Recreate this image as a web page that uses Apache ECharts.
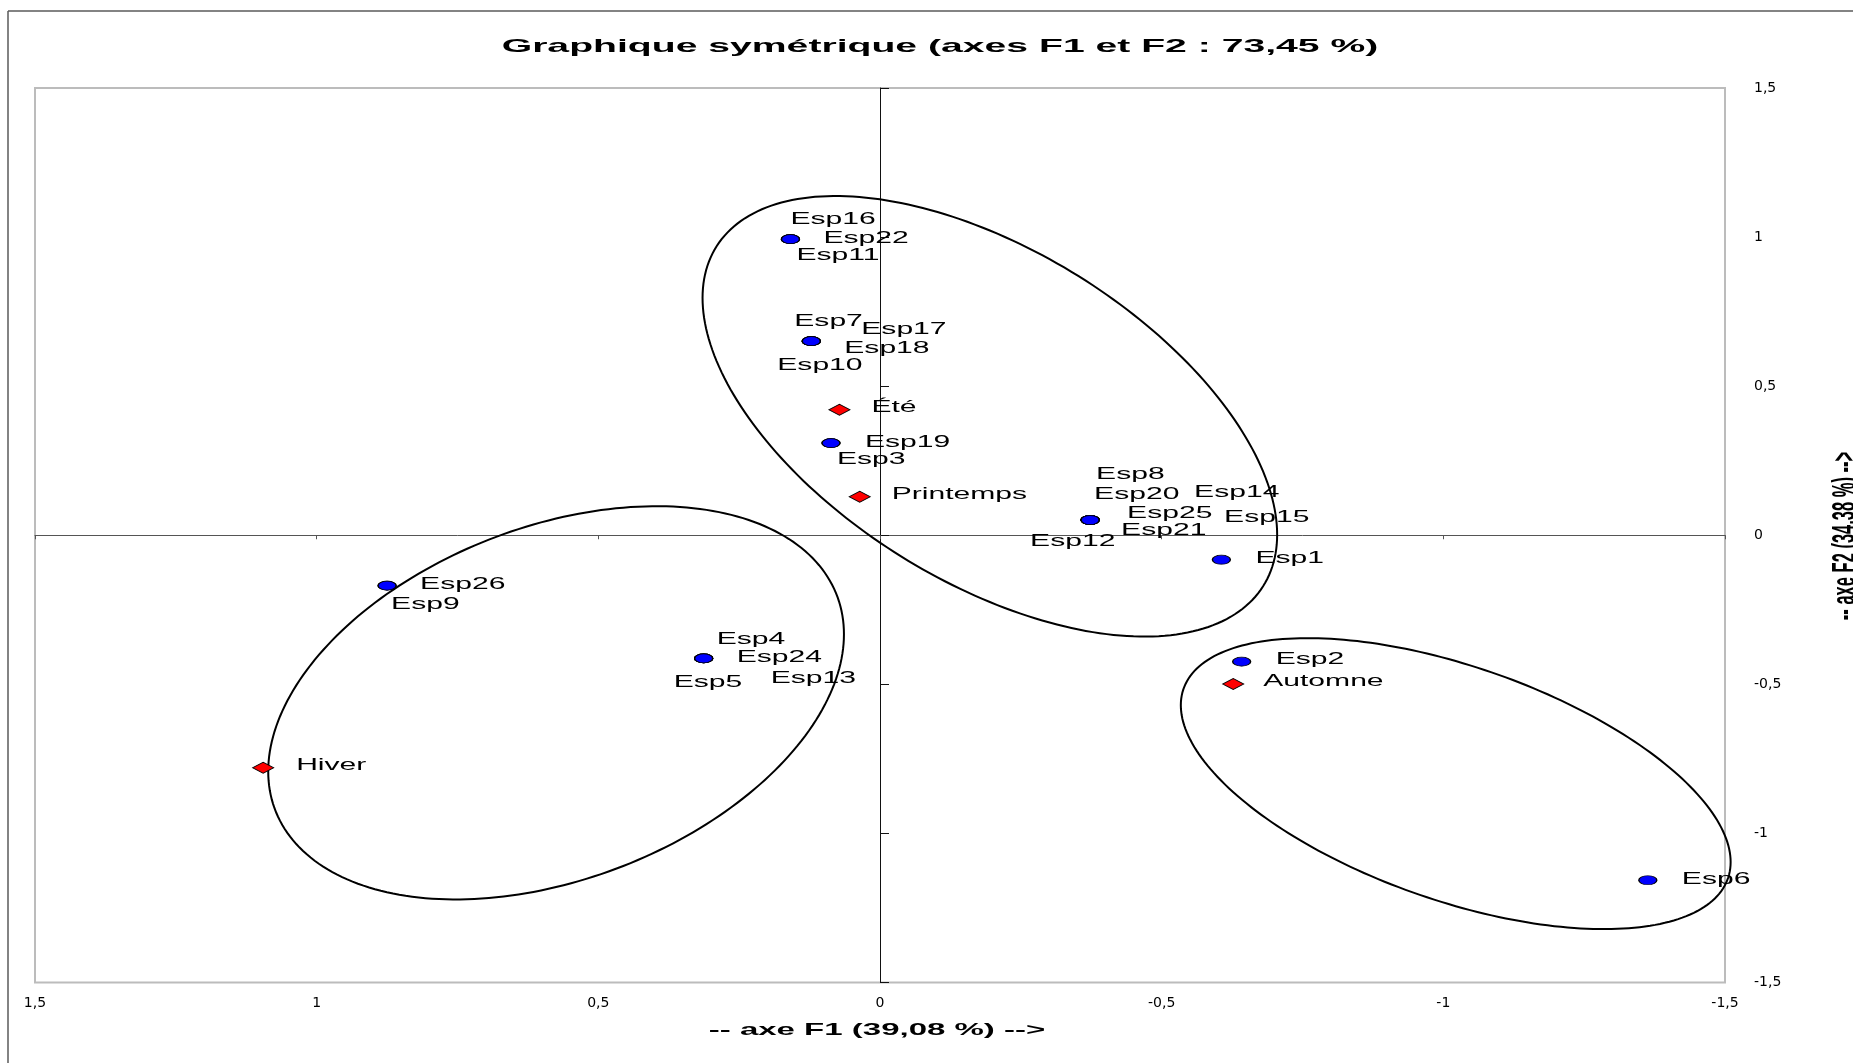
<!DOCTYPE html>
<html>
<head>
<meta charset="utf-8">
<title>Graphique symétrique</title>
<script src="https://cdn.jsdelivr.net/npm/echarts@6/dist/echarts.min.js"></script>
<style>
  html, body { margin: 0; padding: 0; background: #ffffff; }
  #chart { width: 1853px; height: 1063px; }
</style>
</head>
<body>
<div id="chart"></div>
<script>
// Species (rows of the contingency table) on the F1 x F2 plane
const speciesNames = ['Esp1', 'Esp2', 'Esp3', 'Esp4', 'Esp5', 'Esp6', 'Esp7', 'Esp8', 'Esp9', 'Esp10',
  'Esp11', 'Esp12', 'Esp13', 'Esp14', 'Esp15', 'Esp16', 'Esp17', 'Esp18', 'Esp19', 'Esp20',
  'Esp21', 'Esp22', 'Esp24', 'Esp25', 'Esp26'];
const speciesF1 = [-0.606, -0.642, 0.087, 0.313, 0.313, -1.363, 0.122, -0.373, 0.875, 0.122,
  0.159, -0.373, 0.313, -0.373, -0.373, 0.159, 0.122, 0.122, 0.087, -0.373,
  -0.373, 0.159, 0.313, -0.373, 0.875];
const speciesF2 = [-0.082, -0.424, 0.309, -0.413, -0.413, -1.157, 0.651, 0.051, -0.169, 0.651,
  0.993, 0.051, -0.413, 0.051, 0.051, 0.993, 0.651, 0.651, 0.309, 0.051,
  0.051, 0.993, -0.413, 0.051, -0.169];

// Seasons (columns)
const seasonNames = ['Printemps', 'Été', 'Automne', 'Hiver'];
const seasonF1 = [0.036, 0.072, -0.627, 1.095];
const seasonF2 = [0.129, 0.421, -0.499, -0.780];

// Grouping ellipses: centre and two conjugate semi-diameters, in axis units
const ellipseCentres = [[-0.195, 0.399], [0.575, -0.562], [-1.022, -0.833]];
const ellipseSemiU = [[-0.510, -0.397], [-0.511, 0.230], [-0.488, -0.263]];
const ellipseSemiV = [[0, -0.623], [0, -0.618], [0, -0.411]];

// Axis settings
const axisMin = -1.5;
const axisMax = 1.5;
const axisStep = 0.5;

const chartTitle = 'Graphique symétrique (axes F1 et F2 : 73,45 %)';
const xAxisTitle = '-- axe F1 (39,08 %) -->';
const yAxisTitle = '-- axe F2 (34,38 %) -->';

// Label placement around each marker (pixels: start of text, vertical centre)
const labelOffsets = {
  Esp16: [0, -20], Esp22: [33, -1], Esp11: [6, 16],
  Esp7: [-17, -20], Esp17: [50, -12], Esp18: [33, 7], Esp10: [-34, 24],
  'Été': [32, -2], Esp19: [34, -1], Esp3: [6, 16], Printemps: [32, -2],
  Esp8: [6, -45], Esp20: [4, -25], Esp25: [37, -6], Esp21: [31, 11],
  Esp12: [-60, 22], Esp14: [104, -27], Esp15: [134, -2], Esp1: [34, -1],
  Esp26: [33, -1], Esp9: [4, 19], Esp4: [13, -19], Esp24: [33, -1],
  Esp5: [-30, 24], Esp13: [67, 20], Hiver: [33, -2],
  Esp2: [34, -2], Automne: [30, -2], Esp6: [34, -1]
};

const FONT = '"Liberation Sans", Arial, sans-serif';
const TICK_FONT = '"DejaVu Sans", sans-serif';
const TEXT_STRETCH = 1.88;

const speciesData = speciesF1.map((x, i) => [x, speciesF2[i]]);
const seasonData = seasonF1.map((x, i) => [x, seasonF2[i]]);
const allLabelNames = speciesNames.concat(seasonNames);
const allLabelData = speciesData.concat(seasonData);

const fmt = v => String(v).replace('.', ',');

function textEl(text, x, y, font, align, extra) {
  return Object.assign({
    type: 'text', x: x, y: y, silent: true,
    style: {
      text: text, font: font, fill: '#000000',
      align: align, verticalAlign: 'middle',
      textAlign: align, textVerticalAlign: 'middle'
    }
  }, extra || {});
}

const chart = echarts.init(document.getElementById('chart'), null, { renderer: 'canvas' });

const option = {
  animation: false,
  backgroundColor: '#ffffff',
  grid: {
    left: 35, top: 88, right: 128, bottom: 80.5,
    show: true, borderColor: '#bcbcbc', borderWidth: 2, backgroundColor: 'transparent'
  },
  xAxis: [
    {
      type: 'value', position: 'bottom', inverse: true,
      min: axisMin, max: axisMax, interval: axisStep,
      axisLine: { show: false }, axisTick: { show: false }, splitLine: { show: false },
      axisLabel: { margin: 14, fontSize: 14, fontFamily: TICK_FONT, color: '#000', formatter: fmt }
    },
    {
      type: 'value', position: 'bottom', inverse: true,
      min: axisMin, max: axisMax, interval: axisStep,
      axisLine: { show: true, onZero: true, lineStyle: { color: '#555555', width: 1 } },
      axisTick: { show: true, length: 4, lineStyle: { color: '#555555', width: 1 } },
      axisLabel: { show: false }, splitLine: { show: false }
    }
  ],
  yAxis: [
    {
      type: 'value', position: 'right',
      min: axisMin, max: axisMax, interval: axisStep,
      axisLine: { show: false }, axisTick: { show: false }, splitLine: { show: false },
      axisLabel: { margin: 29, fontSize: 14, fontFamily: TICK_FONT, color: '#000', formatter: fmt }
    },
    {
      type: 'value', position: 'right',
      min: axisMin, max: axisMax, interval: axisStep,
      axisLine: { show: true, onZero: true, lineStyle: { color: '#111111', width: 1 } },
      axisTick: { show: true, length: 9, lineStyle: { color: '#111111', width: 1 } },
      axisLabel: { show: false }, splitLine: { show: false }
    }
  ],
  graphic: [
    // outer chart frame
    { type: 'line', silent: true, shape: { x1: 8, y1: 11, x2: 1853, y2: 11 },
      style: { stroke: '#5a5a5a', lineWidth: 1.5 } },
    { type: 'line', silent: true, shape: { x1: 8, y1: 11, x2: 8, y2: 1063 },
      style: { stroke: '#5a5a5a', lineWidth: 1.5 } },
    textEl(chartTitle, 940, 47, 'bold 19px ' + FONT, 'center', { scaleX: 2.06 }),
    textEl(xAxisTitle, 877, 1030, 'bold 16.5px ' + FONT, 'center', { scaleX: 2.0 }),
    textEl(yAxisTitle, 1846, 536, 'bold 16.5px ' + FONT, 'center', { rotation: Math.PI / 2, scaleY: 2.0 })
  ],
  series: [
    {
      name: 'Ellipses',
      type: 'custom',
      xAxisIndex: 0, yAxisIndex: 0,
      z: 1, silent: true, clip: false,
      data: ellipseCentres,
      renderItem: function (params, api) {
        const c = ellipseCentres[params.dataIndex];
        const u = ellipseSemiU[params.dataIndex];
        const v = ellipseSemiV[params.dataIndex];
        const pts = [];
        const n = 240;
        for (let k = 0; k < n; k++) {
          const t = 2 * Math.PI * k / n;
          pts.push(api.coord([
            c[0] + u[0] * Math.cos(t) + v[0] * Math.sin(t),
            c[1] + u[1] * Math.cos(t) + v[1] * Math.sin(t)
          ]));
        }
        return {
          type: 'polygon',
          shape: { points: pts },
          style: { fill: 'none', stroke: '#000000', lineWidth: 2 }
        };
      }
    },
    {
      name: 'Espèces',
      type: 'scatter',
      xAxisIndex: 0, yAxisIndex: 0, z: 3,
      symbol: 'circle', symbolSize: [18, 9],
      itemStyle: { color: '#0000ff', borderColor: '#000000', borderWidth: 1, opacity: 1 },
      data: speciesData
    },
    {
      name: 'Saisons',
      type: 'scatter',
      xAxisIndex: 0, yAxisIndex: 0, z: 3,
      symbol: 'diamond', symbolSize: [21, 11],
      itemStyle: { color: '#ff0000', borderColor: '#000000', borderWidth: 1, opacity: 1 },
      data: seasonData
    },
    {
      name: 'Étiquettes',
      type: 'custom',
      xAxisIndex: 0, yAxisIndex: 0,
      z: 4, silent: true, clip: false,
      data: allLabelData,
      renderItem: function (params, api) {
        const p = api.coord([api.value(0), api.value(1)]);
        const name = allLabelNames[params.dataIndex];
        const off = labelOffsets[name] || [33, -1];
        return textEl(name, p[0] + off[0], p[1] + off[1], '16px ' + FONT, 'left', { scaleX: TEXT_STRETCH });
      }
    }
  ]
};

chart.setOption(option);
</script>
</body>
</html>
